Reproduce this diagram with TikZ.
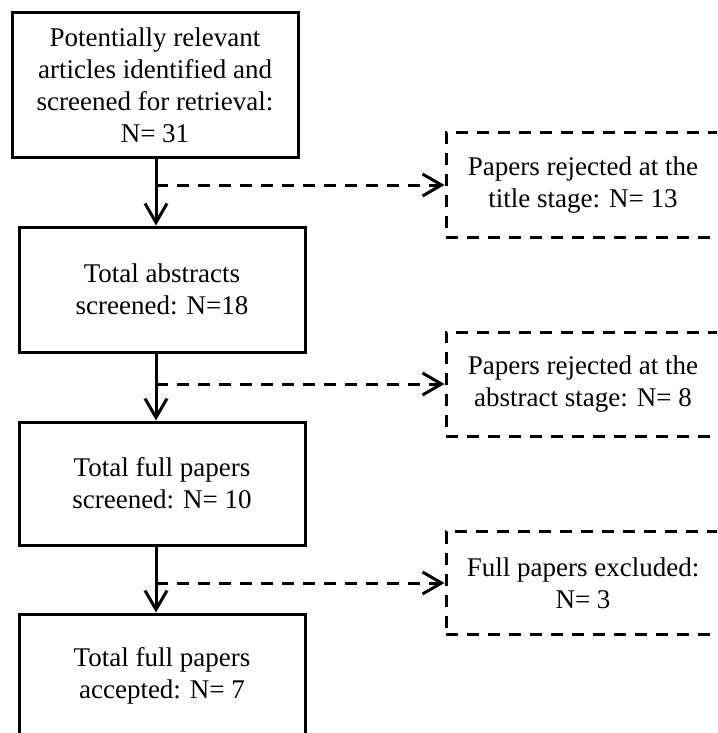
\documentclass[tikz,border=0pt]{standalone}
\usepackage{fontspec}
\setmainfont{Liberation Serif}
\usetikzlibrary{arrows.meta}
\begin{document}
\begin{tikzpicture}[x=1pt,y=-1pt,
  txt/.style={align=center, font=\fontsize{27}{32}\selectfont, inner sep=0pt},
  solidbox/.style={txt, draw, line width=3pt, minimum width=286pt},
  dashbox/.style={txt, draw, line width=3pt, dash pattern=on 12pt off 9pt, minimum width=274pt},
  flow/.style={line width=3pt, -{Straight Barb[length=19pt,width=22pt,line width=3pt]}},
  branch/.style={flow, dash pattern=on 12pt off 9pt}]
\clip (0,0) rectangle (717,733);
\fill[white] (0,0) rectangle (717,733);
\coordinate (spine) at (156,0);
\node[solidbox, minimum height=144pt] (b1) at (155,85) {Potentially relevant\\articles identified and\\screened for retrieval:\\N= 31};
\node[solidbox, minimum height=125pt] (b2) at (162,289.5) {Total abstracts\\screened: N=18};
\node[solidbox, minimum height=123pt] (b3) at (162,483.5) {Total full papers\\screened: N= 10};
\node[solidbox, minimum height=124pt] (b4) at (162,676) {Total full papers\\accepted: N= 7};
\node[dashbox, minimum height=104pt] (d1) at (583,185) {Papers rejected at the\\title stage: N= 13};
\node[dashbox, minimum height=104pt] (d2) at (583,384) {Papers rejected at the\\abstract stage: N= 8};
\node[dashbox, minimum height=103pt] (d3) at (583,583) {Full papers excluded:\\N= 3};
\draw[flow] (b1.south -| spine) -- (b2.north -| spine);
\draw[flow] (b2.south -| spine) -- (b3.north -| spine);
\draw[flow] (b3.south -| spine) -- (b4.north -| spine);
\coordinate (j1) at (spine |- d1.west);
\coordinate (j2) at (spine |- d2.west);
\coordinate (j3) at (spine |- d3.west);
\draw[branch] (j1) -- (d1.west);
\draw[branch] (j2) -- (d2.west);
\draw[branch] (j3) -- (d3.west);
\end{tikzpicture}
\end{document}
